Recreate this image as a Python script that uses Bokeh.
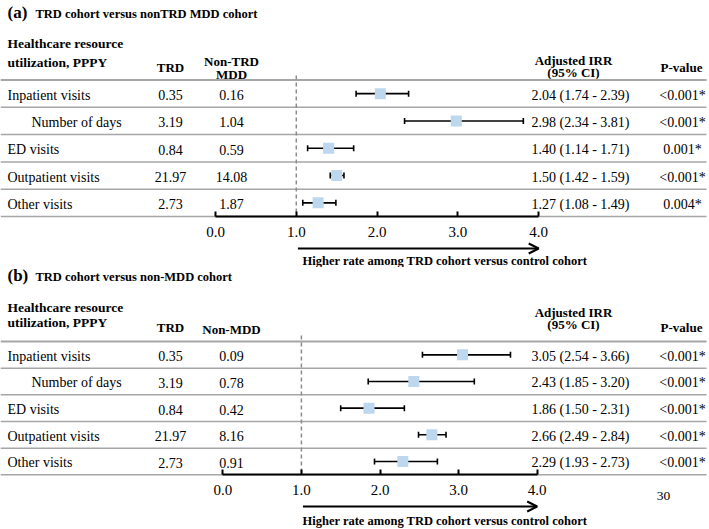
from bokeh.plotting import figure
from bokeh.layouts import column
from bokeh.models import (Range1d, LinearAxis, FixedTicker, Whisker, TeeHead,
                          Arrow, OpenHead, ColumnDataSource)
from bokeh.core.properties import value
from bokeh.embed import file_html
from bokeh.resources import INLINE

# ---------------- data ----------------
rows = ["Inpatient visits", "Number of days", "ED visits", "Outpatient visits", "Other visits"]
sub_row = [False, True, False, False, False]

trd = [0.35, 3.19, 0.84, 21.97, 2.73]

a_ctrl = [0.16, 1.04, 0.59, 14.08, 1.87]
a_irr = [2.04, 2.98, 1.40, 1.50, 1.27]
a_lo = [1.74, 2.34, 1.14, 1.42, 1.08]
a_hi = [2.39, 3.81, 1.71, 1.59, 1.49]
a_p = ["<0.001*", "<0.001*", "0.001*", "<0.001*", "0.004*"]

b_ctrl = [0.09, 0.78, 0.42, 8.16, 0.91]
b_irr = [3.05, 2.43, 1.86, 2.66, 2.29]
b_lo = [2.54, 1.85, 1.50, 2.49, 1.93]
b_hi = [3.66, 3.20, 2.31, 2.84, 2.73]
b_p = ["<0.001*", "<0.001*", "<0.001*", "<0.001*", "<0.001*"]

ticks = [0, 1, 2, 3, 4]
tick_labels = ["0.0", "1.0", "2.0", "3.0", "4.0"]
arrow_text = "Higher rate among TRD cohort versus control cohort"

SERIF = value("Liberation Serif")
W = 709
LEFT = 0
RIGHT = LEFT + W


def panel(tag, title, ctrl_header, ctrl, irr, lo, hi, pv, y_top, y_bot,
          px0, ppu, title_y, hdr_y, hdr_gap, col_y, irr_y, head_line, row_h,
          dash_top, axis_y, arrow_y, text_y, page_no=None):
    def X(px):
        return (px - px0) / ppu

    p = figure(width=W, height=int(y_bot - y_top), output_backend="svg",
               toolbar_location=None, x_axis_type=None, y_axis_type=None,
               x_range=Range1d(X(LEFT), X(RIGHT)), y_range=Range1d(y_bot, y_top),
               min_border=0, outline_line_color=None)
    p.xgrid.visible = False
    p.ygrid.visible = False

    def txt(xpx, y, s, size="14px", bold=False, align="left"):
        p.text(x=[X(xpx)], y=[y], text=[s], text_font=SERIF, text_font_size=size,
               text_font_style="bold" if bold else "normal", text_align=align,
               text_baseline="middle", text_color="black")

    # titles
    txt(7, title_y, tag, size="17px", bold=True)
    txt(35, title_y + 1, title, size="12.5px", bold=True)
    # column headers
    txt(7, hdr_y, "Healthcare resource", size="13.5px", bold=True)
    txt(7, hdr_y + hdr_gap, "utilization, PPPY", size="13.5px", bold=True)
    txt(170, col_y, "TRD", size="13px", bold=True, align="center")
    if len(ctrl_header) == 2:
        txt(231, col_y - 6, ctrl_header[0], size="13px", bold=True, align="center")
        txt(231, col_y + 7, ctrl_header[1], size="13px", bold=True, align="center")
    else:
        txt(231, col_y + 2, ctrl_header[0], size="13px", bold=True, align="center")
    txt(573, irr_y, "Adjusted IRR", size="13px", bold=True, align="center")
    txt(573, irr_y + 12, "(95% CI)", size="13px", bold=True, align="center")
    txt(681, col_y, "P-value", size="13px", bold=True, align="center")

    n = len(rows)
    yc = [head_line + (i + 0.5) * row_h for i in range(n)]
    lines_y = [head_line + i * row_h for i in range(n + 1)]

    # table lines
    p.segment(x0=X(LEFT), x1=X(RIGHT - 3), y0=lines_y[0], y1=lines_y[0],
              line_color="#a6a6a6", line_width=2)
    p.segment(x0=[X(LEFT)] * n, x1=[X(RIGHT - 3)] * n, y0=lines_y[1:], y1=lines_y[1:],
              line_color="#a6a6a6", line_width=1.5)

    # table body text
    lab_x = [X(31) if s else X(7) for s in sub_row]
    src = ColumnDataSource(dict(
        y=[v + 1.5 for v in yc], lab_x=lab_x, lab=rows,
        trd=[f"{v:.2f}" for v in trd], ctrl=[f"{v:.2f}" for v in ctrl],
        ci=[f"{a:.2f} ({b:.2f} - {c:.2f})" for a, b, c in zip(irr, lo, hi)],
        pv=pv, irr=irr, lo=lo, hi=hi, yc=yc))
    common = dict(source=src, y="y", text_font=SERIF, text_font_size="14px",
                  text_baseline="middle", text_color="black")
    p.text(x="lab_x", text="lab", text_align="left", **common)
    p.text(x=X(170), text="trd", text_align="center", **common)
    p.text(x=X(231), text="ctrl", text_align="center", **common)
    p.text(x=X(580), text="ci", text_align="center", **common)
    p.text(x=X(682), text="pv", text_align="center", **common)

    # reference line at 1
    p.segment(x0=[1], x1=[1], y0=[dash_top], y1=[axis_y], line_color="#8c8c8c",
              line_width=1.5, line_dash="4 3")

    # CI whiskers and points
    p.add_layout(Whisker(source=src, base="yc", lower="lo", upper="hi", dimension="width",
                         line_color="black", line_width=1.6,
                         upper_head=TeeHead(size=6, line_width=1.6, line_color="black"),
                         lower_head=TeeHead(size=6, line_width=1.6, line_color="black")))
    p.scatter(x="irr", y="yc", source=src, marker="square", size=11,
              fill_color="#bdd7ee", line_color=None)

    # axis
    ax = LinearAxis(fixed_location=axis_y, bounds=(0, 4),
                    ticker=FixedTicker(ticks=ticks),
                    major_label_overrides={t: l for t, l in zip(ticks, tick_labels)},
                    major_tick_in=5, major_tick_out=0, minor_tick_line_color=None,
                    axis_line_width=2, major_tick_line_width=2,
                    major_label_text_font="Liberation Serif",
                    major_label_text_font_size="15px", major_label_standoff=10,
                    major_label_text_color="black")
    p.add_layout(ax, "below")

    # arrow + caption
    p.add_layout(Arrow(end=OpenHead(size=10, line_width=2), x_start=1.02, y_start=arrow_y,
                       x_end=4.0, y_end=arrow_y, line_width=2, line_color="black"))
    txt(302, text_y, arrow_text, size="12.5px", bold=True)
    if page_no:
        txt(663, page_no[1], page_no[0], size="13.5px", align="center")
    return p


pa = panel("(a)", "TRD cohort versus nonTRD MDD cohort", ["Non-TRD", "MDD"],
           a_ctrl, a_irr, a_lo, a_hi, a_p, 0, 267, 215.0, 80.8,
           title_y=12, hdr_y=43, hdr_gap=19, col_y=67, irr_y=60, head_line=79.5, row_h=27.3,
           dash_top=75, axis_y=216, arrow_y=248, text_y=260)
pb = panel("(b)", "TRD cohort versus non-MDD cohort", ["Non-MDD"],
           b_ctrl, b_irr, b_lo, b_hi, b_p, 267, 529, 222.3, 78.6,
           title_y=275, hdr_y=307, hdr_gap=15, col_y=327, irr_y=312, head_line=341, row_h=26.66,
           dash_top=335, axis_y=474.3, arrow_y=506, text_y=520, page_no=("30", 495))

layout = column(pa, pb, spacing=0)
open("out.html", "w").write(file_html(layout, INLINE))
